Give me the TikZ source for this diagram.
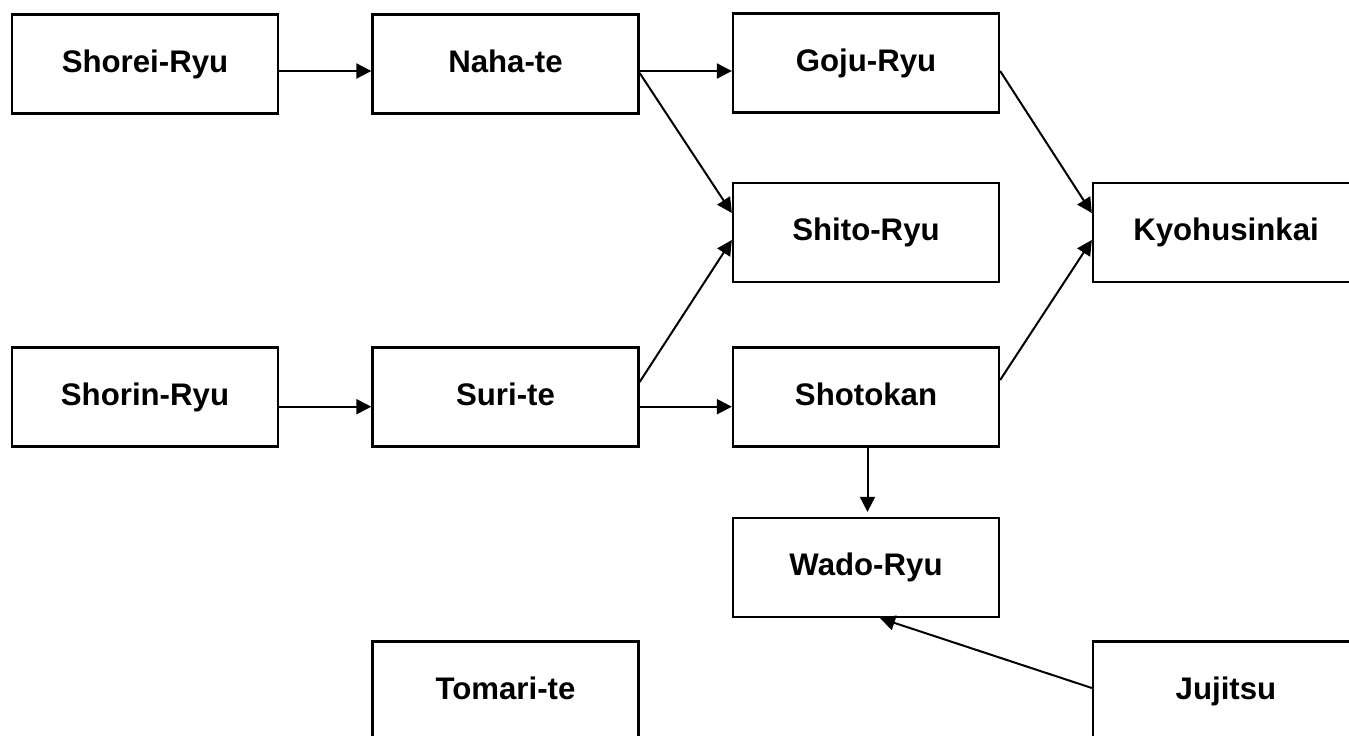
\documentclass[tikz,border=0pt]{standalone}
\usepackage{fontspec}
\setmainfont{Liberation Sans}
\usetikzlibrary{arrows.meta}
\begin{document}
\begin{tikzpicture}[x=1pt,y=-1pt,
  box/.style={draw=black,line width=2.3pt,fill=white,minimum width=266pt,minimum height=99pt,
    inner sep=0pt,text height=22pt,text depth=6pt,
    font=\fontsize{31.2}{36}\selectfont\bfseries},
  conn/.style={draw=black,line width=2pt,-{Triangle[length=15pt,width=15pt]}}]
\useasboundingbox (0,0) rectangle (1349,736);
\fill[white] (0,0) rectangle (1349,736);
\node[box] (shorei) at (145,64) {Shorei-Ryu};
\node[box] (naha) at (505.5,64) {Naha-te};
\node[box] (goju) at (866,63) {Goju-Ryu};
\node[box] (shito) at (866,232.5) {Shito-Ryu};
\node[box] (kyo) at (1226,232.5) {Kyohusinkai};
\node[box] (shorin) at (145,397) {Shorin-Ryu};
\node[box] (suri) at (505.5,397) {Suri-te};
\node[box] (shotokan) at (866,397) {Shotokan};
\node[box] (wado) at (866,567.5) {Wado-Ryu};
\node[box] (tomari) at (505.5,691) {Tomari-te};
\node[box] (jujitsu) at (1226,691) {Jujitsu};
\draw[conn] ([yshift=-7pt]shorei.east) -- ([yshift=-7pt]naha.west);
\draw[conn] ([yshift=-7pt]naha.east) -- ([yshift=-8pt]goju.west);
\draw[conn] ([yshift=-9pt]naha.east) -- ([yshift=19.5pt]shito.west);
\draw[conn] ([yshift=15pt]suri.east) -- ([yshift=-7.5pt]shito.west);
\draw[conn] ([yshift=-8pt]goju.east) -- ([yshift=19.5pt]kyo.west);
\draw[conn] ([yshift=17pt]shotokan.east) -- ([yshift=-7.5pt]kyo.west);
\draw[conn] ([yshift=-9.7pt]shorin.east) -- ([yshift=-9.7pt]suri.west);
\draw[conn] ([yshift=-9.7pt]suri.east) -- ([yshift=-9.7pt]shotokan.west);
\draw[conn,shorten >=5pt] ([xshift=1.5pt]shotokan.south) -- ([xshift=1.5pt]wado.north);
\draw[conn] ([yshift=3pt]jujitsu.west) -- ([xshift=14pt]wado.south);
\end{tikzpicture}
\end{document}
